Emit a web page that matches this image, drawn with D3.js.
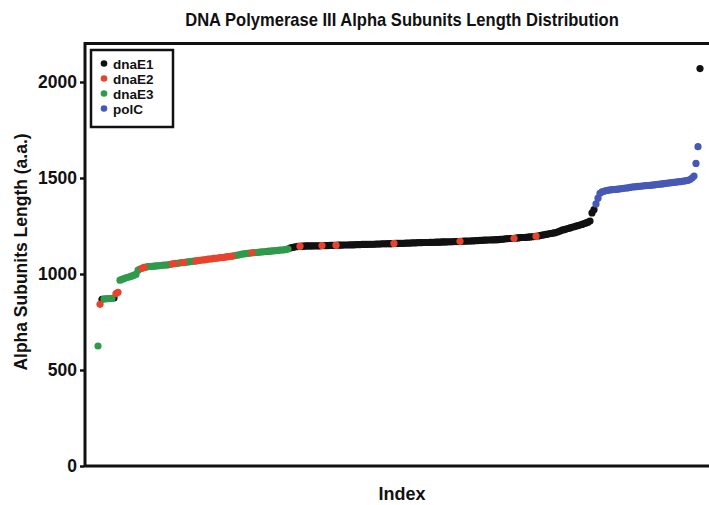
<!DOCTYPE html>
<html lang="en">
<head>
<meta charset="utf-8"/>
<script src="https://cdn.jsdelivr.net/npm/d3@7"></script>
<style>
  body { margin: 0; background: #fff; }
  text { font-family: "Liberation Sans", Arial, Helvetica, sans-serif; font-weight: bold; fill: #111; }
</style>
</head>
<body>
<script>
// lengths sorted by index (a.a.)
var lengths = [
  625, 842, 868, 870, 871, 872, 872, 873, 875, 898, 905,
  968, 972, 976, 980, 983, 986, 990, 994, 998, 1020, 1026,
  1030, 1034, 1036, 1038, 1039, 1040, 1041, 1042, 1043, 1044, 1045, 1046, 1047, 1048, 1050,
  1052, 1054, 1055, 1056, 1058, 1059, 1060, 1062, 1063, 1064, 1066, 1067, 1068,
  1070, 1071, 1073, 1074, 1075, 1077, 1078, 1079, 1081, 1082, 1083, 1085, 1086, 1087, 1089, 1090, 1091, 1093,
  1095, 1097, 1099, 1101, 1103, 1105, 1106, 1108, 1109, 1110,
  1111, 1112, 1113, 1114, 1115, 1116, 1117,
  1118,
  1119, 1120, 1121, 1122, 1123, 1124, 1125, 1126, 1128, 1130,
  1135, 1138, 1140, 1142, 1144, 1145,
  1145, 1145, 1146, 1146, 1146, 1146, 1147, 1147, 1147, 1147, 1148, 1148, 1148, 1148, 1149, 1149, 1149, 1150, 1150, 1150, 1150, 1151, 1151, 1151, 1152,
  1152, 1152, 1153, 1153, 1153, 1154, 1154, 1154, 1155, 1155, 1155, 1155, 1156, 1156, 1156, 1157, 1157, 1157, 1158, 1158, 1158, 1159, 1159, 1159, 1160,
  1160, 1160, 1161, 1161, 1161, 1162, 1162, 1162, 1163, 1163, 1163, 1164, 1164, 1164, 1165, 1165, 1165, 1166, 1166, 1166, 1167, 1167, 1167, 1168, 1168, 1168, 1169, 1169, 1169, 1170,
  1170, 1171, 1171, 1172, 1172, 1173, 1173, 1174, 1174, 1175, 1175, 1176, 1176, 1177, 1177, 1178, 1178, 1179, 1179, 1180,
  1181, 1182, 1183, 1184, 1185, 1185, 1186, 1187, 1188, 1189, 1190, 1190, 1191, 1192, 1193, 1194, 1195,
  1197, 1198, 1200, 1202, 1204, 1206, 1208, 1210, 1212, 1214,
  1216, 1220, 1224, 1228, 1231, 1234, 1237, 1240, 1243, 1246, 1249, 1252, 1255, 1258, 1262, 1266, 1270, 1276,
  1318, 1335,
  1365, 1395, 1420,
  1428, 1431, 1434, 1436, 1438, 1439, 1440, 1441, 1442, 1444, 1445, 1446, 1448, 1449, 1451, 1453, 1454, 1455, 1456, 1457,
  1458, 1459, 1460, 1461, 1462, 1463, 1464, 1466, 1467, 1468, 1469, 1471, 1472, 1474, 1475, 1476, 1477, 1478, 1480, 1481,
  1483, 1484, 1486, 1488, 1492, 1500,
  1510, 1576, 1663, 2070
];

// subunit of each point, as runs of [name, count] along the index
var groupRuns = [
  ["dnaE3", 1], ["dnaE2", 1], ["dnaE1", 1], ["dnaE3", 5], ["dnaE1", 1], ["dnaE2", 2],
  ["dnaE3", 11], ["dnaE2", 2], ["dnaE3", 13], ["dnaE2", 2], ["dnaE3", 3], ["dnaE2", 2],
  ["dnaE3", 5], ["dnaE2", 19], ["dnaE3", 9], ["dnaE2", 1], ["dnaE3", 7], ["dnaE1", 1],
  ["dnaE3", 10], ["dnaE1", 5], ["dnaE2", 1], ["dnaE1", 10], ["dnaE2", 1], ["dnaE1", 6],
  ["dnaE2", 1], ["dnaE1", 28], ["dnaE2", 1], ["dnaE1", 32], ["dnaE2", 1], ["dnaE1", 26],
  ["dnaE2", 1], ["dnaE1", 10], ["dnaE2", 1], ["dnaE1", 29], ["polC", 52], ["dnaE1", 1]
];

var subunits = ["dnaE1", "dnaE2", "dnaE3", "polC"];
var colors = ["#111111", "#e8432c", "#2f9a4c", "#4759b5"];
var yTicks = [0, 500, 1000, 1500, 2000];

var W = 709, H = 505;
var svg = d3.select("body").append("svg")
    .attr("width", W)
    .attr("height", H);

var groups = [];
groupRuns.forEach(function(r) {
    for (var k = 0; k < r[1]; k++) groups.push(r[0]);
});
var data = lengths.map(function(v, i) { return { i: i, v: v, g: groups[i] }; });

var x = d3.scaleLinear().domain([0, lengths.length - 1]).range([98, 700]);
var y = d3.scaleLinear().domain([0, 2000]).range([466, 82]);
var color = d3.scaleOrdinal().domain(subunits).range(colors);

// frame
svg.append("rect")
    .attr("x", 85).attr("y", 43.5)
    .attr("width", 640).attr("height", 422.5)
    .attr("fill", "none")
    .attr("stroke", "#111")
    .attr("stroke-width", 3);

// y axis
var yAxis = svg.append("g")
    .attr("transform", "translate(84,0)")
    .call(d3.axisLeft(y).tickValues(yTicks).tickSize(4).tickPadding(3).tickFormat(d3.format("d")));
yAxis.select(".domain").remove();
yAxis.selectAll(".tick line").attr("stroke", "#111").attr("stroke-width", 2.5);
yAxis.selectAll(".tick text")
    .attr("font-size", 17.5)
    .attr("font-family", "Liberation Sans, Arial, sans-serif")
    .attr("font-weight", "bold")
    .attr("fill", "#111");

// points, one layer per subunit
var order = ["dnaE1", "dnaE3", "dnaE2", "polC"];
order.forEach(function(g) {
    svg.append("g").selectAll("circle")
        .data(data.filter(function(d) { return d.g === g; }))
        .enter()
        .append("circle")
        .attr("cx", function(d) { return x(d.i); })
        .attr("cy", function(d) { return y(d.v); })
        .attr("r", 3.6)
        .attr("fill", color(g));
});

// legend
svg.append("rect")
    .attr("x", 91).attr("y", 50)
    .attr("width", 82).attr("height", 77)
    .attr("fill", "#fff")
    .attr("stroke", "#111")
    .attr("stroke-width", 2.5);
var leg = svg.append("g").selectAll("g")
    .data(subunits)
    .enter()
    .append("g")
    .attr("transform", function(d, i) { return "translate(104," + (63.5 + i * 15) + ")"; });
leg.append("circle").attr("r", 3.3).attr("fill", function(d) { return color(d); });
leg.append("text")
    .attr("x", 9).attr("y", 5)
    .attr("font-size", 13.5)
    .text(function(d) { return d; });

// titles
svg.append("text")
    .attr("transform", "translate(402,26) scale(0.92,1)")
    .attr("text-anchor", "middle")
    .attr("font-size", 18)
    .text("DNA Polymerase III Alpha Subunits Length Distribution");

svg.append("text")
    .attr("x", 402).attr("y", 500)
    .attr("text-anchor", "middle")
    .attr("font-size", 18)
    .text("Index");

svg.append("text")
    .attr("transform", "translate(27,252) rotate(-90)")
    .attr("text-anchor", "middle")
    .attr("font-size", 17.5)
    .text("Alpha Subunits Length (a.a.)");
</script>
</body>
</html>
